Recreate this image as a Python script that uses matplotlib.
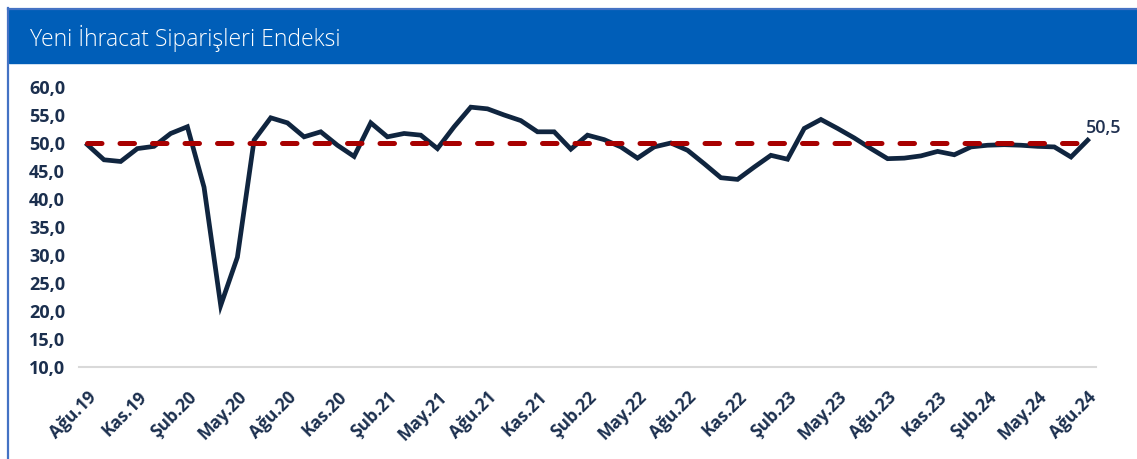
import matplotlib.pyplot as plt
from matplotlib.patches import Rectangle
from matplotlib.lines import Line2D

W, H = 1137, 459

months = ['Ağu', 'Eyl', 'Eki', 'Kas', 'Ara', 'Oca', 'Şub', 'Mar', 'Nis', 'May', 'Haz', 'Tem']
start_year = 19
n_points = 61

values = [49.7, 47.0, 46.7, 49.0, 49.4, 51.7, 52.9, 42.1, 21.0, 29.6,
          50.5, 54.5, 53.6, 51.1, 52.0, 49.6, 47.6, 53.6, 51.1, 51.7,
          51.4, 49.0, 52.9, 56.4, 56.1, 55.0, 54.0, 52.0, 52.0, 48.9,
          51.4, 50.6, 49.3, 47.3, 49.3, 50.0, 48.7, 46.3, 43.8, 43.5,
          45.7, 47.8, 47.1, 52.6, 54.2, 52.6, 50.9, 49.0, 47.2, 47.3,
          47.7, 48.5, 47.9, 49.3, 49.6, 49.7, 49.6, 49.4, 49.3, 47.5,
          50.5]
threshold = 50.0
yticks = [10, 15, 20, 25, 30, 35, 40, 45, 50, 55, 60]

# month labels: Ağu.19 ... Ağu.24 (year rolls over at Oca)
labels = []
yr = start_year
for i in range(n_points):
    m = months[i % 12]
    if m == 'Oca':
        yr += 1
    labels.append(f'{m}.{yr}')

navy = '#10253F'
tick_col = '#1B2F4E'

fig = plt.figure(figsize=(W / 100, H / 100), dpi=100)

# outer frame + title bar
fig.add_artist(Line2D([8 / W, 8 / W], [0, 1 - 8 / H], color='#4472C4', lw=1.6))
fig.add_artist(Line2D([8 / W, 1], [1 - 9 / H, 1 - 9 / H], color='#4472C4', lw=1.6))
fig.patches.append(Rectangle((9 / W, 1 - 63 / H), 1 - 9 / W, 53 / H,
                             transform=fig.transFigure, color='#005EB8', zorder=0))
fig.text(30 / W, 1 - 38 / H, 'Yeni İhracat Siparişleri Endeksi', color='white',
         fontsize=16.5, family='Open Sans', fontweight='light', va='center', ha='left')

ax = fig.add_axes([79 / W, (H - 367) / H, (1096 - 79) / W, (367 - 87) / H])
x = list(range(n_points))
ax.plot(x, values, color=navy, lw=3.4, solid_joinstyle='miter', zorder=3)
ax.plot([x[0], x[-1]], [threshold, threshold], color='#A80000', lw=3.6,
        dashes=(2.9, 3.6), dash_capstyle='round', zorder=4)
ax.annotate(f'{values[-1]:.1f}'.replace('.', ','), (x[-1], values[-1]),
            xytext=(-1, 2), textcoords='offset points', ha='left', va='bottom',
            fontsize=13, fontweight='semibold', family='Open Sans', color='#1F3050')

ax.set_xlim(-0.5, n_points - 0.5)
ax.set_ylim(10, 60)
ax.set_yticks(yticks)
ax.set_yticklabels([f'{t:.1f}'.replace('.', ',') for t in yticks],
                   fontsize=13, fontweight='bold', family='Open Sans', color=tick_col)
ax.set_xticks(x[::3])
ax.set_xticklabels(labels[::3], rotation=45, ha='right', va='top', rotation_mode='anchor',
                   fontsize=12.5, fontweight='bold', family='Open Sans', color=tick_col)
ax.tick_params(length=0)
ax.tick_params(axis='y', pad=10)
ax.tick_params(axis='x', pad=15)
for s in ['top', 'right', 'left']:
    ax.spines[s].set_visible(False)
ax.spines['bottom'].set_color('#D9D9D9')
ax.spines['bottom'].set_linewidth(1.5)
ax.set_facecolor('none')

plt.savefig('out.png', dpi=100)
